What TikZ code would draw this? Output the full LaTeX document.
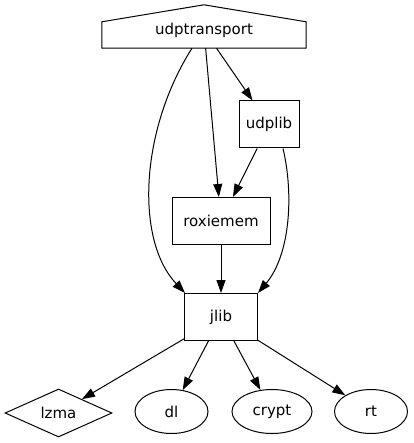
\documentclass[tikz,border=0pt]{standalone}
\usepackage{fontspec}
\setmainfont{DejaVu Sans}
\usetikzlibrary{shapes.geometric,arrows.meta,positioning}

\begin{document}
\begin{tikzpicture}[
			x=1pt, y=-1pt,
			node distance=96pt,
			>={Triangle[length=13pt,width=9pt]},
			font=\fontsize{15}{18}\selectfont,
			box/.style={
					rectangle,
					draw=black,
					line width=1pt,
					inner sep=0pt,
					minimum height=47pt
				},
			house/.style={rectangle, inner sep=0pt, minimum width=204pt, minimum height=36pt},
			lib/.style={ellipse, draw=black, line width=1pt, inner sep=0pt, minimum width=73pt, minimum height=44pt},
			archive/.style={diamond, draw=black, line width=1pt, inner sep=0pt, minimum width=107pt, minimum height=48pt},
			link/.style={->, line width=1pt}
		]
		\useasboundingbox (0,0) rectangle (413,443);

		% Nodes
		\node[house] (udptransport) at (204,30) {udptransport};
		\draw[line width=1pt] (udptransport.south west) -- ([yshift=-10pt]udptransport.north west)
			-- ([yshift=7pt]udptransport.north) -- ([yshift=-10pt]udptransport.north east)
			-- (udptransport.south east) -- cycle;
		\node[box, minimum width=60pt] (udplib) at (269,124.5) {udplib};
		\node[box, minimum width=98pt] (roxiemem) at (221,221) {roxiemem};
		\node[box, minimum width=73pt, below of=roxiemem] (jlib) {jlib};
		\node[archive] (lzma) at (58.5,413) {lzma};
		\node[lib] (dl) at (171.5,411.5) {dl};
		\node[lib, minimum width=80pt] (crypt) at (272,411.5) {crypt};
		\node[lib] (rt) at (371,411.5) {rt};

		% Arrows
		\draw[link] (udptransport) -- (roxiemem);
		\draw[link] (udptransport) -- (udplib);
		\draw[link] ([xshift=-12pt]udptransport.south) .. controls (140,130) and (135,240) .. ([xshift=1pt]jlib.north west);
		\draw[link] (udplib) -- (roxiemem);
		\draw[link] ([xshift=14pt]udplib.south) .. controls (294,195) and (290,255) .. (jlib.north east);
		\draw[link] (roxiemem) -- (jlib);
		\draw[link] (jlib) -- (lzma);
		\draw[link] (jlib) -- (dl);
		\draw[link] (jlib) -- (crypt);
		\draw[link] (jlib) -- (rt);

	\end{tikzpicture}
\end{document}
